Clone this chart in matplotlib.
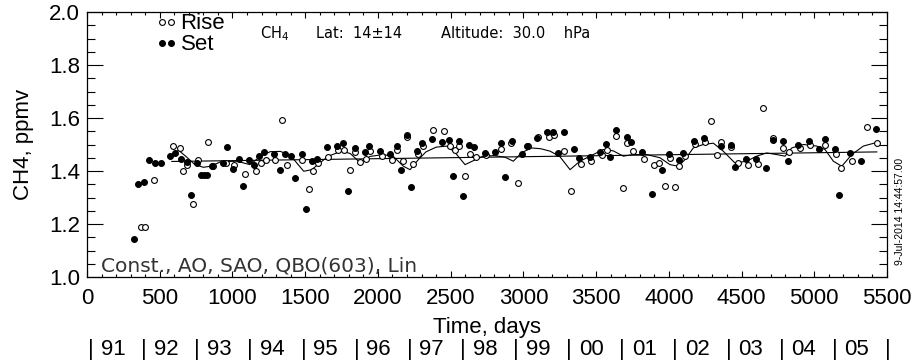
import numpy as np
import matplotlib.pyplot as plt
from matplotlib.ticker import MultipleLocator

# HALOE-style CH4 time series, 30 hPa, Lat 14+-14
rise_days = [369, 399, 463, 593, 641, 657, 685, 729, 765, 832, 868, 956, 1011, 1086, 1162,
             1194, 1231, 1295, 1338, 1377, 1478, 1524, 1552, 1590, 1659, 1728, 1767, 1808,
             1842, 1877, 1916, 1946, 2026, 2095, 2133, 2170, 2198, 2243, 2273, 2312, 2381,
             2457, 2496, 2532, 2560, 2601, 2633, 2674, 2743, 2846, 2917, 2961, 3030, 3103,
             3178, 3213, 3279, 3325, 3398, 3467, 3538, 3572, 3639, 3683, 3710, 3756, 3827,
             3898, 3930, 3972, 4008, 4043, 4072, 4111, 4182, 4251, 4290, 4329, 4357, 4430,
             4476, 4542, 4611, 4645, 4715, 4788, 4826, 4902, 4971, 5076, 5147, 5186, 5259,
             5362, 5429]
rise_ch4 = [1.188, 1.188, 1.367, 1.495, 1.487, 1.400, 1.424, 1.277, 1.443, 1.510, 1.420, 1.430,
            1.424, 1.388, 1.399, 1.430, 1.440, 1.443, 1.592, 1.423, 1.443, 1.332, 1.400, 1.430,
            1.453, 1.481, 1.478, 1.402, 1.472, 1.433, 1.446, 1.475, 1.456, 1.443, 1.481, 1.437,
            1.527, 1.428, 1.466, 1.494, 1.556, 1.550, 1.494, 1.478, 1.496, 1.383, 1.465, 1.453,
            1.462, 1.484, 1.506, 1.356, 1.496, 1.529, 1.529, 1.535, 1.475, 1.325, 1.427, 1.437,
            1.462, 1.481, 1.531, 1.336, 1.506, 1.477, 1.446, 1.423, 1.432, 1.344, 1.450, 1.340,
            1.418, 1.458, 1.503, 1.511, 1.590, 1.461, 1.509, 1.491, 1.430, 1.424, 1.428, 1.639,
            1.525, 1.485, 1.472, 1.487, 1.499, 1.497, 1.465, 1.413, 1.438, 1.566, 1.504]

set_days = [325, 353, 394, 428, 465, 511, 571, 607, 644, 685, 713, 754, 784, 805, 827, 859,
            933, 965, 1001, 1043, 1075, 1116, 1150, 1185, 1219, 1286, 1327, 1361, 1403, 1432,
            1478, 1503, 1545, 1579, 1652, 1721, 1762, 1792, 1840, 1911, 1941, 2014, 2083, 2129,
            2159, 2198, 2225, 2266, 2303, 2374, 2443, 2487, 2514, 2557, 2585, 2628, 2661, 2736,
            2807, 2844, 2876, 2919, 2991, 3023, 3094, 3162, 3204, 3236, 3279, 3348, 3382, 3458,
            3527, 3568, 3598, 3639, 3710, 3740, 3814, 3883, 3955, 3999, 4068, 4100, 4173, 4244,
            4359, 4428, 4457, 4531, 4600, 4671, 4715, 4785, 4817, 4890, 4962, 5033, 5074, 5145,
            5172, 5246, 5319, 5427]
set_ch4 = [1.143, 1.350, 1.359, 1.440, 1.430, 1.430, 1.456, 1.467, 1.444, 1.434, 1.310, 1.430,
           1.386, 1.386, 1.386, 1.418, 1.430, 1.490, 1.409, 1.446, 1.344, 1.442, 1.424, 1.458,
           1.471, 1.466, 1.403, 1.466, 1.458, 1.372, 1.466, 1.258, 1.438, 1.446, 1.492, 1.496,
           1.507, 1.326, 1.487, 1.471, 1.495, 1.475, 1.466, 1.494, 1.403, 1.537, 1.340, 1.476,
           1.505, 1.520, 1.510, 1.516, 1.383, 1.513, 1.304, 1.499, 1.489, 1.469, 1.471, 1.504,
           1.378, 1.513, 1.466, 1.495, 1.523, 1.549, 1.549, 1.468, 1.548, 1.482, 1.450, 1.453,
           1.473, 1.503, 1.451, 1.554, 1.530, 1.511, 1.471, 1.313, 1.403, 1.465, 1.442, 1.467,
           1.513, 1.523, 1.496, 1.497, 1.416, 1.447, 1.444, 1.412, 1.518, 1.513, 1.436, 1.499,
           1.513, 1.484, 1.519, 1.484, 1.308, 1.467, 1.436, 1.558]

# fitted model (Const, AO, SAO, QBO, Lin) and linear trend
fit_days = [590, 630, 680, 740, 800, 850, 920, 1030, 1120, 1200, 1260, 1330, 1400, 1490, 1545,
            1600, 1660, 1750, 1810, 1877, 1946, 2037, 2106, 2175, 2221, 2278, 2330, 2400, 2473,
            2530, 2599, 2660, 2723, 2800, 2874, 2931, 2990, 3057, 3120, 3183, 3250, 3321, 3389,
            3458, 3550, 3618, 3687, 3756, 3848, 3939, 4008, 4066, 4111, 4168, 4237, 4306, 4374,
            4455, 4535, 4604, 4673, 4742, 4799, 4845, 4925, 5017, 5074, 5131, 5189, 5258, 5337,
            5418]
fit_ch4 = [1.465, 1.478, 1.455, 1.425, 1.414, 1.418, 1.435, 1.437, 1.424, 1.458, 1.473, 1.474,
           1.458, 1.399, 1.405, 1.430, 1.456, 1.475, 1.466, 1.432, 1.455, 1.462, 1.455, 1.418,
           1.405, 1.443, 1.472, 1.490, 1.494, 1.470, 1.424, 1.440, 1.456, 1.458, 1.452, 1.437,
           1.470, 1.487, 1.484, 1.475, 1.455, 1.405, 1.437, 1.456, 1.481, 1.476, 1.456, 1.462,
           1.462, 1.450, 1.424, 1.418, 1.443, 1.487, 1.500, 1.505, 1.475, 1.430, 1.437, 1.456,
           1.468, 1.462, 1.456, 1.487, 1.500, 1.494, 1.481, 1.437, 1.418, 1.462, 1.494, 1.506]
trend_days = [583, 5430]
trend_ch4 = [1.436, 1.472]

years = ['91', '92', '93', '94', '95', '96', '97', '98', '99', '00', '01', '02', '03', '04', '05']
year_start = [27, 392, 757, 1123, 1488, 1853, 2218, 2584, 2949, 3314, 3679, 4045, 4410, 4775,
              5140, 5506]

plt.rcParams['font.family'] = ['Liberation Sans', 'DejaVu Sans']

fig = plt.figure(figsize=(9.15, 3.61), dpi=100)
ax = fig.add_axes([87 / 915, 1 - 277 / 361, 800 / 915, 265 / 361])

ax.plot(trend_days, trend_ch4, color='black', lw=0.8)
ax.plot(fit_days, fit_ch4, color='black', lw=0.8)
ax.plot(rise_days, rise_ch4, 'o', ms=4.2, mfc='white', mec='black', mew=0.8, label='Rise')
ax.plot(set_days, set_ch4, 'o', ms=4.2, mfc='black', mec='black', mew=0.8, label='Set')

ax.set_xlim(0, 5500)
ax.set_ylim(1.0, 2.0)
ax.xaxis.set_major_locator(MultipleLocator(500))
ax.xaxis.set_minor_locator(MultipleLocator(100))
ax.yaxis.set_major_locator(MultipleLocator(0.2))
ax.yaxis.set_minor_locator(MultipleLocator(0.05))
ax.yaxis.set_major_formatter(plt.FormatStrFormatter('%.1f'))
ax.tick_params(axis='x', which='major', direction='in', top=True, length=4.5, width=0.8,
               labelsize=16, pad=8)
ax.tick_params(axis='x', which='minor', direction='in', top=True, length=2.3, width=0.8)
ax.tick_params(axis='y', which='major', direction='in', right=True, length=11.5, width=0.8,
               labelsize=16, pad=5)
ax.tick_params(axis='y', which='minor', direction='in', right=True, length=5.8, width=0.8)
for sp in ax.spines.values():
    sp.set_linewidth(0.9)

ax.set_xlabel('Time, days', fontsize=16)
ax.xaxis.set_label_coords(0.5, -0.15)
ax.set_ylabel('CH4, ppmv', fontsize=16)
ax.yaxis.set_label_coords(-0.066, 0.5)

ax.legend(loc='upper left', bbox_to_anchor=(0.085, 0.995), numpoints=2, frameon=False,
          fontsize=16, handlelength=1.0, handletextpad=0.15, labelspacing=0.0,
          borderpad=0, borderaxespad=0)

hdr = dict(family='DejaVu Sans', fontsize=10.5, va='center')
ax.text(0.216, 0.92, 'CH$_4$', transform=ax.transAxes, **hdr)
ax.text(0.286, 0.92, 'Lat:  14\u00b114', transform=ax.transAxes, **hdr)
ax.text(0.443, 0.92, 'Altitude:  30.0    hPa', transform=ax.transAxes, **hdr)
ax.text(0.017, 0.04, 'Const., AO, SAO, QBO(603), Lin', transform=ax.transAxes,
        family='DejaVu Sans', fontsize=14.5, va='center', color='#333333')

# year row under the axis
trans = ax.get_xaxis_transform()
for d in year_start:
    ax.text(d, -0.272, '|', transform=trans, fontsize=16, ha='center', va='center')
for d, y in zip(year_start[:-1], years):
    ax.annotate(y, (d, -0.272), xycoords=trans, xytext=(7, 0), textcoords='offset points',
                fontsize=16, ha='left', va='center')

fig.text(900 / 915, 1 - 211 / 361, '9-Jul-2014 14:44:57.00', rotation=90, fontsize=7.5,
         ha='center', va='center')

fig.savefig('out.png', dpi=100)
